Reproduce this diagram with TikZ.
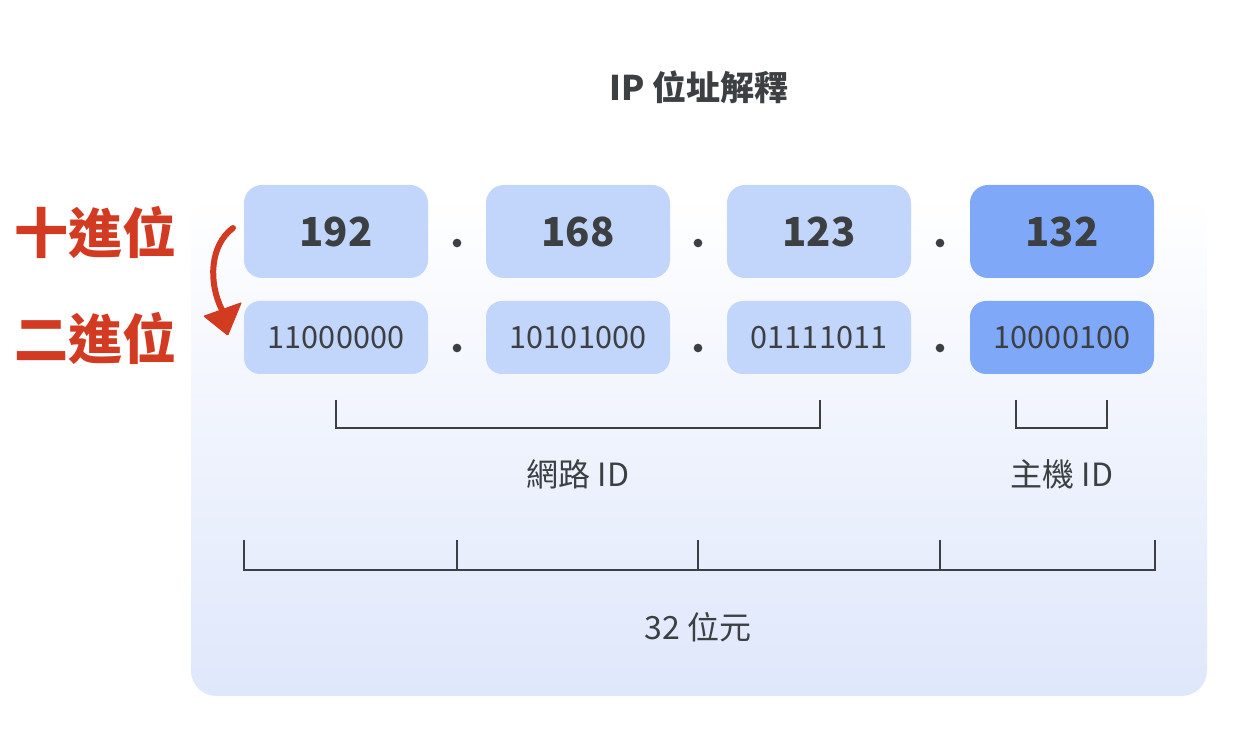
\documentclass[tikz,border=0pt]{standalone}
\usepackage{fontspec}
\setmainfont{Noto Sans CJK TC}
\usetikzlibrary{positioning}
\definecolor{ink}{HTML}{3C4043}
\definecolor{boxlight}{HTML}{C2D5FA}
\definecolor{boxdark}{HTML}{7FA9F8}
\definecolor{redtxt}{HTML}{D23B22}
\definecolor{panelbot}{HTML}{DFE7FB}
\tikzset{
  x=0.75pt, y=-0.75pt,
  decbox/.style={rounded corners=13.5pt, inner sep=0pt, minimum width=138pt, minimum height=69.75pt, text=ink, font=\fontsize{30}{34}\selectfont\bfseries},
  binbox/.style={rounded corners=12pt, inner sep=0pt, minimum width=138pt, minimum height=54.75pt, text=ink, font=\fontsize{23}{26}\selectfont},
  sep/.style={circle, fill=ink, inner sep=0pt, minimum size=6.5pt},
  bracket/.style={draw=ink, line width=1.9pt},
  lbl/.style={text=ink, font=\fontsize{24}{28}\selectfont},
  side/.style={text=redtxt, font=\fontsize{40.5}{44}\selectfont\bfseries},
}
\begin{document}
\begin{tikzpicture}
\useasboundingbox (0,0) rectangle (1238,730);
% panel
\shade[top color=white, bottom color=panelbot, rounded corners=19pt] (191,195) rectangle (1207,696);
% title
\node[text=ink, font=\fontsize{25.5}{30}\selectfont\bfseries] (title) at (699,87) {IP 位址解釋};
% decimal row
\node[decbox, fill=boxlight] (d1) at (336,231.5) {192};
\node[decbox, fill=boxlight] (d2) at (578,231.5) {168};
\node[decbox, fill=boxlight] (d3) at (819,231.5) {123};
\node[decbox, fill=boxdark] (d4) at (1062,231.5) {132};
% binary row
\node[binbox, fill=boxlight] (b1) at (336,337.5) {11000000};
\node[binbox, fill=boxlight] (b2) at (578,337.5) {10101000};
\node[binbox, fill=boxlight] (b3) at (819,337.5) {01111011};
\node[binbox, fill=boxdark] (b4) at (1062,337.5) {10000100};
% dots
\node[sep] (p1) at (457,243) {};
\node[sep] (p2) at (698,243) {};
\node[sep] (p3) at (940,243) {};
\node[sep] (q1) at (457,348) {};
\node[sep] (q2) at (698,348) {};
\node[sep] (q3) at (940,348) {};
% side labels
\node[side] (dec) at (95,232) {十進位};
\node[side] (bin) at (95,338) {二進位};
% red arrow
\coordinate (arrS) at (233,228);
\coordinate (arrE) at (222,310);
\draw[redtxt, line width=4.5pt, line cap=round] (arrS) .. controls (210,245) and (208,282) .. (arrE);
\fill[redtxt, rounded corners=1pt] (203,316) -- (242,302) -- (228,336) -- cycle;
% network bracket
\draw[bracket] (336,400) -- (336,428) -- (820,428) -- (820,400);
\node[lbl] (net) at (578,474) {網路 ID};
% host bracket
\draw[bracket] (1016,400) -- (1016,428) -- (1107,428) -- (1107,400);
\node[lbl] (host) at (1062,474) {主機 ID};
% 32 bit bracket
\draw[bracket] (244,540) -- (244,570) -- (1155,570) -- (1155,540);
\draw[bracket] (457,540) -- (457,570);
\draw[bracket] (698,540) -- (698,570);
\draw[bracket] (940,540) -- (940,570);
\node[lbl] (bits) at (698,627) {32 位元};
\end{tikzpicture}
\end{document}
